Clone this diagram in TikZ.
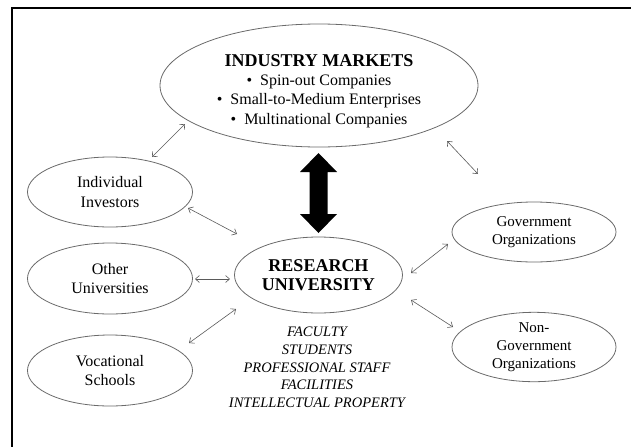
\documentclass[tikz,border=0pt]{standalone}
\usepackage{fontspec}
\setmainfont{Liberation Serif}
\usetikzlibrary{arrows.meta,shapes.geometric}
\definecolor{ovalgray}{HTML}{6A6A6A}
\definecolor{conngray}{HTML}{5A5A5A}
\begin{document}
\begin{tikzpicture}[x=1pt,y=-1pt,
  oval/.style={ellipse, draw=ovalgray, line width=0.8pt, inner sep=0pt, outer sep=0pt, align=center},
  leftfont/.style={font=\fontsize{16}{19.5}\selectfont},
  rightfont/.style={font=\fontsize{15}{18}\selectfont},
  conn/.style={draw=conngray, line width=0.6pt, {Straight Barb[length=4pt,width=7pt]}-{Straight Barb[length=4pt,width=7pt]}},
  bigarrow/.style={fill=black}
]
\useasboundingbox (0,0) rectangle (631,447);
\draw[line width=2pt] (631,7.5) -- (11.5,7.5) -- (11.5,447);

\node[oval, minimum width=318pt, minimum height=123pt, font=\fontsize{16}{19.5}\selectfont] (mk) at (319,85.5)
  {\rule{0pt}{23pt}{\fontsize{18}{22}\selectfont\bfseries INDUSTRY MARKETS}\\[-0.5pt]
   •\enspace Spin-out Companies\\
   •\enspace Small-to-Medium Enterprises\\
   •\enspace Multinational Companies};

\node[oval, leftfont, minimum width=165pt, minimum height=70pt] (ind) at (110,192) {Individual\\Investors};
\node[oval, leftfont, minimum width=165pt, minimum height=71pt] (oth) at (110,278.5) {Other\\Universities};
\node[oval, leftfont, minimum width=165pt, minimum height=71pt] (voc) at (110,370.5) {Vocational\\Schools};
\node[oval, font=\fontsize{18}{19.5}\selectfont\bfseries, minimum width=168pt, minimum height=76pt] (res) at (318.5,275) {RESEARCH\\UNIVERSITY};
\node[oval, rightfont, minimum width=164pt, minimum height=60pt] (gov) at (534,232) {Government\\Organizations};
\node[oval, rightfont, minimum width=164pt, minimum height=69pt] (ngo) at (534,347) {Non-\\Government\\Organizations};
\node[font=\fontsize{14.5}{17.7}\selectfont\itshape, align=center, inner sep=0pt] (assets) at (317,367.5)
  {FACULTY\\STUDENTS\\PROFESSIONAL STAFF\\FACILITIES\\INTELLECTUAL PROPERTY};

\draw[conn] ([shift={(42,-35)}]ind.center) -- ([shift={(-134,38.5)}]mk.center);
\draw[conn] ([shift={(128,55.5)}]mk.center) -- ([shift={(-56,-58)}]gov.center);
\draw[conn] ([shift={(78,16)}]ind.center) -- ([shift={(-81.5,-41)}]res.center);
\draw[conn] ([shift={(85,0.5)}]oth.center) -- ([shift={(-88.5,4)}]res.center);
\draw[conn] ([shift={(79,-27.5)}]voc.center) -- ([shift={(-82.5,34)}]res.center);
\draw[conn] ([shift={(92.5,-2)}]res.center) -- ([shift={(-86,12)}]gov.center);
\draw[conn] ([shift={(92.5,25)}]res.center) -- ([shift={(-81,-20)}]ngo.center);

\coordinate (bt) at ([shift={(-0.5,6)}]mk.south);
\fill[bigarrow] (bt) -- ++(18.5,19) -- ++(-9.5,0) -- ++(0,42) -- ++(9.5,0) -- ++(-18.5,19)
  -- ++(-18.5,-19) -- ++(9.5,0) -- ++(0,-42) -- ++(-9.5,0) -- cycle;
\end{tikzpicture}
\end{document}
